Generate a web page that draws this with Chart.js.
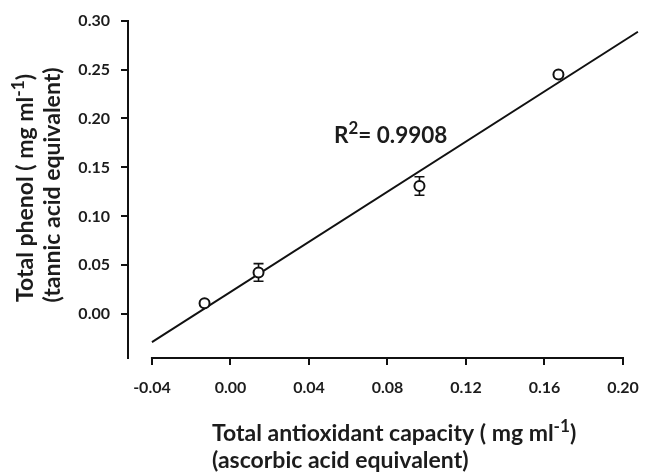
<!DOCTYPE html>
<html><head><meta charset="utf-8">
<script src="https://cdn.jsdelivr.net/npm/chart.js@4.4.1/dist/chart.umd.min.js"></script>
<style>html,body{margin:0;padding:0;background:#fff}canvas{display:block}</style>
</head><body>
<canvas id="c" width="657" height="474"></canvas>
<script>
// ---- data ----
const antioxidant = [-0.0132, 0.0143, 0.0963, 0.1671];   // x: total antioxidant capacity
const phenol      = [0.0112, 0.0427, 0.1310, 0.2449];    // y: total phenol
const phenolErr   = [0.0020, 0.0090, 0.0095, 0.0020];    // y error (±)
const fitX = [-0.04, 0.2076];                            // regression line ends
const fitY = [-0.0285, 0.2886];
const xTicks = [-0.04, 0.00, 0.04, 0.08, 0.12, 0.16, 0.20];
const yTicks = [0.00, 0.05, 0.10, 0.15, 0.20, 0.25, 0.30];
const xRange = [-0.0522, 0.20];
const yRange = [-0.0447, 0.30];
const yTitleLines = [
  [{t:'Total phenol ( mg ml'},{t:'-1',sup:true},{t:')'}],
  [{t:'(tannic acid equivalent)'}]
];
const xTitleLines = [
  [{t:'Total antioxidant capacity ( mg ml'},{t:'-1',sup:true},{t:')'}],
  [{t:'(ascorbic acid equivalent)'}]
];
const r2Label = [{t:'R'},{t:'2',sup:true},{t:'= 0.9908'}];

const FONT = 'Lato, "Open Sans", sans-serif';
const INK = '#1c1c1c';
const TITLE_SIZE = 23;
const R2_SIZE = 22.5;
const TICK_SIZE = 16;

function richWidth(ctx, parts, size){
  let w = 0;
  for (const p of parts){
    ctx.font = 'bold ' + (p.sup ? size*0.75 : size) + 'px ' + FONT;
    w += ctx.measureText(p.t).width;
  }
  return w;
}
function drawRich(ctx, parts, x, y, align, size){
  const w = richWidth(ctx, parts, size);
  let cx = align === 'center' ? x - w/2 : (align === 'right' ? x - w : x);
  ctx.textAlign = 'left';
  ctx.textBaseline = 'alphabetic';
  ctx.fillStyle = INK;
  for (const p of parts){
    const s = p.sup ? size*0.75 : size;
    ctx.font = 'bold ' + s + 'px ' + FONT;
    ctx.fillText(p.t, cx, p.sup ? y - size*0.4 : y);
    cx += ctx.measureText(p.t).width;
  }
}

const decor = {
  id: 'decor',
  beforeDatasetsDraw(chart){
    const ctx = chart.ctx, xs = chart.scales.x, ys = chart.scales.y;
    ctx.save();
    ctx.strokeStyle = '#111';
    ctx.lineWidth = 1.6;
    for (let i = 0; i < antioxidant.length; i++){
      const px = xs.getPixelForValue(antioxidant[i]);
      const top = ys.getPixelForValue(phenol[i] + phenolErr[i]);
      const bot = ys.getPixelForValue(phenol[i] - phenolErr[i]);
      ctx.beginPath();
      ctx.moveTo(px, top); ctx.lineTo(px, bot);
      ctx.moveTo(px - 5, top); ctx.lineTo(px + 5, top);
      ctx.moveTo(px - 5, bot); ctx.lineTo(px + 5, bot);
      ctx.stroke();
    }
    ctx.restore();
  },
  afterDraw(chart){
    const ctx = chart.ctx, xs = chart.scales.x;
    const area = chart.chartArea;
    ctx.save();
    // detached x axis line
    ctx.strokeStyle = '#111';
    ctx.lineWidth = 2;
    ctx.beginPath();
    ctx.moveTo(xs.getPixelForValue(xTicks[0]) - 1, area.bottom);
    ctx.lineTo(xs.getPixelForValue(xTicks[xTicks.length-1]) + 1, area.bottom);
    ctx.stroke();
    // x title (left aligned)
    drawRich(ctx, xTitleLines[0], 212, 441, 'left', TITLE_SIZE);
    drawRich(ctx, xTitleLines[1], 212, 468, 'left', TITLE_SIZE);
    // y title (rotated)
    ctx.save();
    ctx.translate(33, 188); ctx.rotate(-Math.PI/2);
    drawRich(ctx, yTitleLines[0], 0, 0, 'center', TITLE_SIZE);
    ctx.restore();
    ctx.save();
    ctx.translate(60, 185); ctx.rotate(-Math.PI/2);
    drawRich(ctx, yTitleLines[1], 0, 0, 'center', TITLE_SIZE);
    ctx.restore();
    // R² annotation
    drawRich(ctx, r2Label, 334, 143, 'left', R2_SIZE);
    ctx.restore();
  }
};

new Chart(document.getElementById('c'), {
  type: 'scatter',
  data: {
    datasets: [
      {
        label: 'samples',
        data: antioxidant.map((v, i) => ({x: v, y: phenol[i]})),
        pointRadius: 5,
        pointBackgroundColor: '#fff',
        pointBorderColor: '#111',
        pointBorderWidth: 2,
        showLine: false,
        order: 0
      },
      {
        label: 'fit',
        type: 'line',
        data: fitX.map((v, i) => ({x: v, y: fitY[i]})),
        borderColor: '#111',
        borderWidth: 2,
        pointRadius: 0,
        fill: false,
        clip: false,
        order: 1
      }
    ]
  },
  options: {
    responsive: false,
    animation: false,
    events: [],
    layout: { padding: { top: 19, right: 34, left: 0, bottom: 0 } },
    plugins: { legend: { display: false }, tooltip: { enabled: false } },
    scales: {
      x: {
        type: 'linear',
        min: xRange[0], max: xRange[1],
        afterBuildTicks: s => { s.ticks = xTicks.map(v => ({value: v})); },
        afterFit: s => { s.height = 116; },
        border: { display: false },
        grid: { drawOnChartArea: false, drawTicks: true, tickLength: 7, color: '#111', lineWidth: 2 },
        ticks: {
          color: INK, padding: 13,
          font: { family: FONT, size: TICK_SIZE, weight: 'bold' },
          callback: v => v.toFixed(2)
        }
      },
      y: {
        type: 'linear',
        min: yRange[0], max: yRange[1],
        afterBuildTicks: s => { s.ticks = yTicks.map(v => ({value: v})); },
        afterFit: s => { s.width = 128; },
        border: { display: true, color: '#111', width: 2 },
        grid: { drawOnChartArea: false, drawTicks: true, tickLength: 7, color: '#111', lineWidth: 2 },
        ticks: {
          color: INK, padding: 11,
          font: { family: FONT, size: TICK_SIZE, weight: 'bold' },
          callback: v => v.toFixed(2)
        }
      }
    }
  },
  plugins: [decor]
});
</script>
</body></html>
